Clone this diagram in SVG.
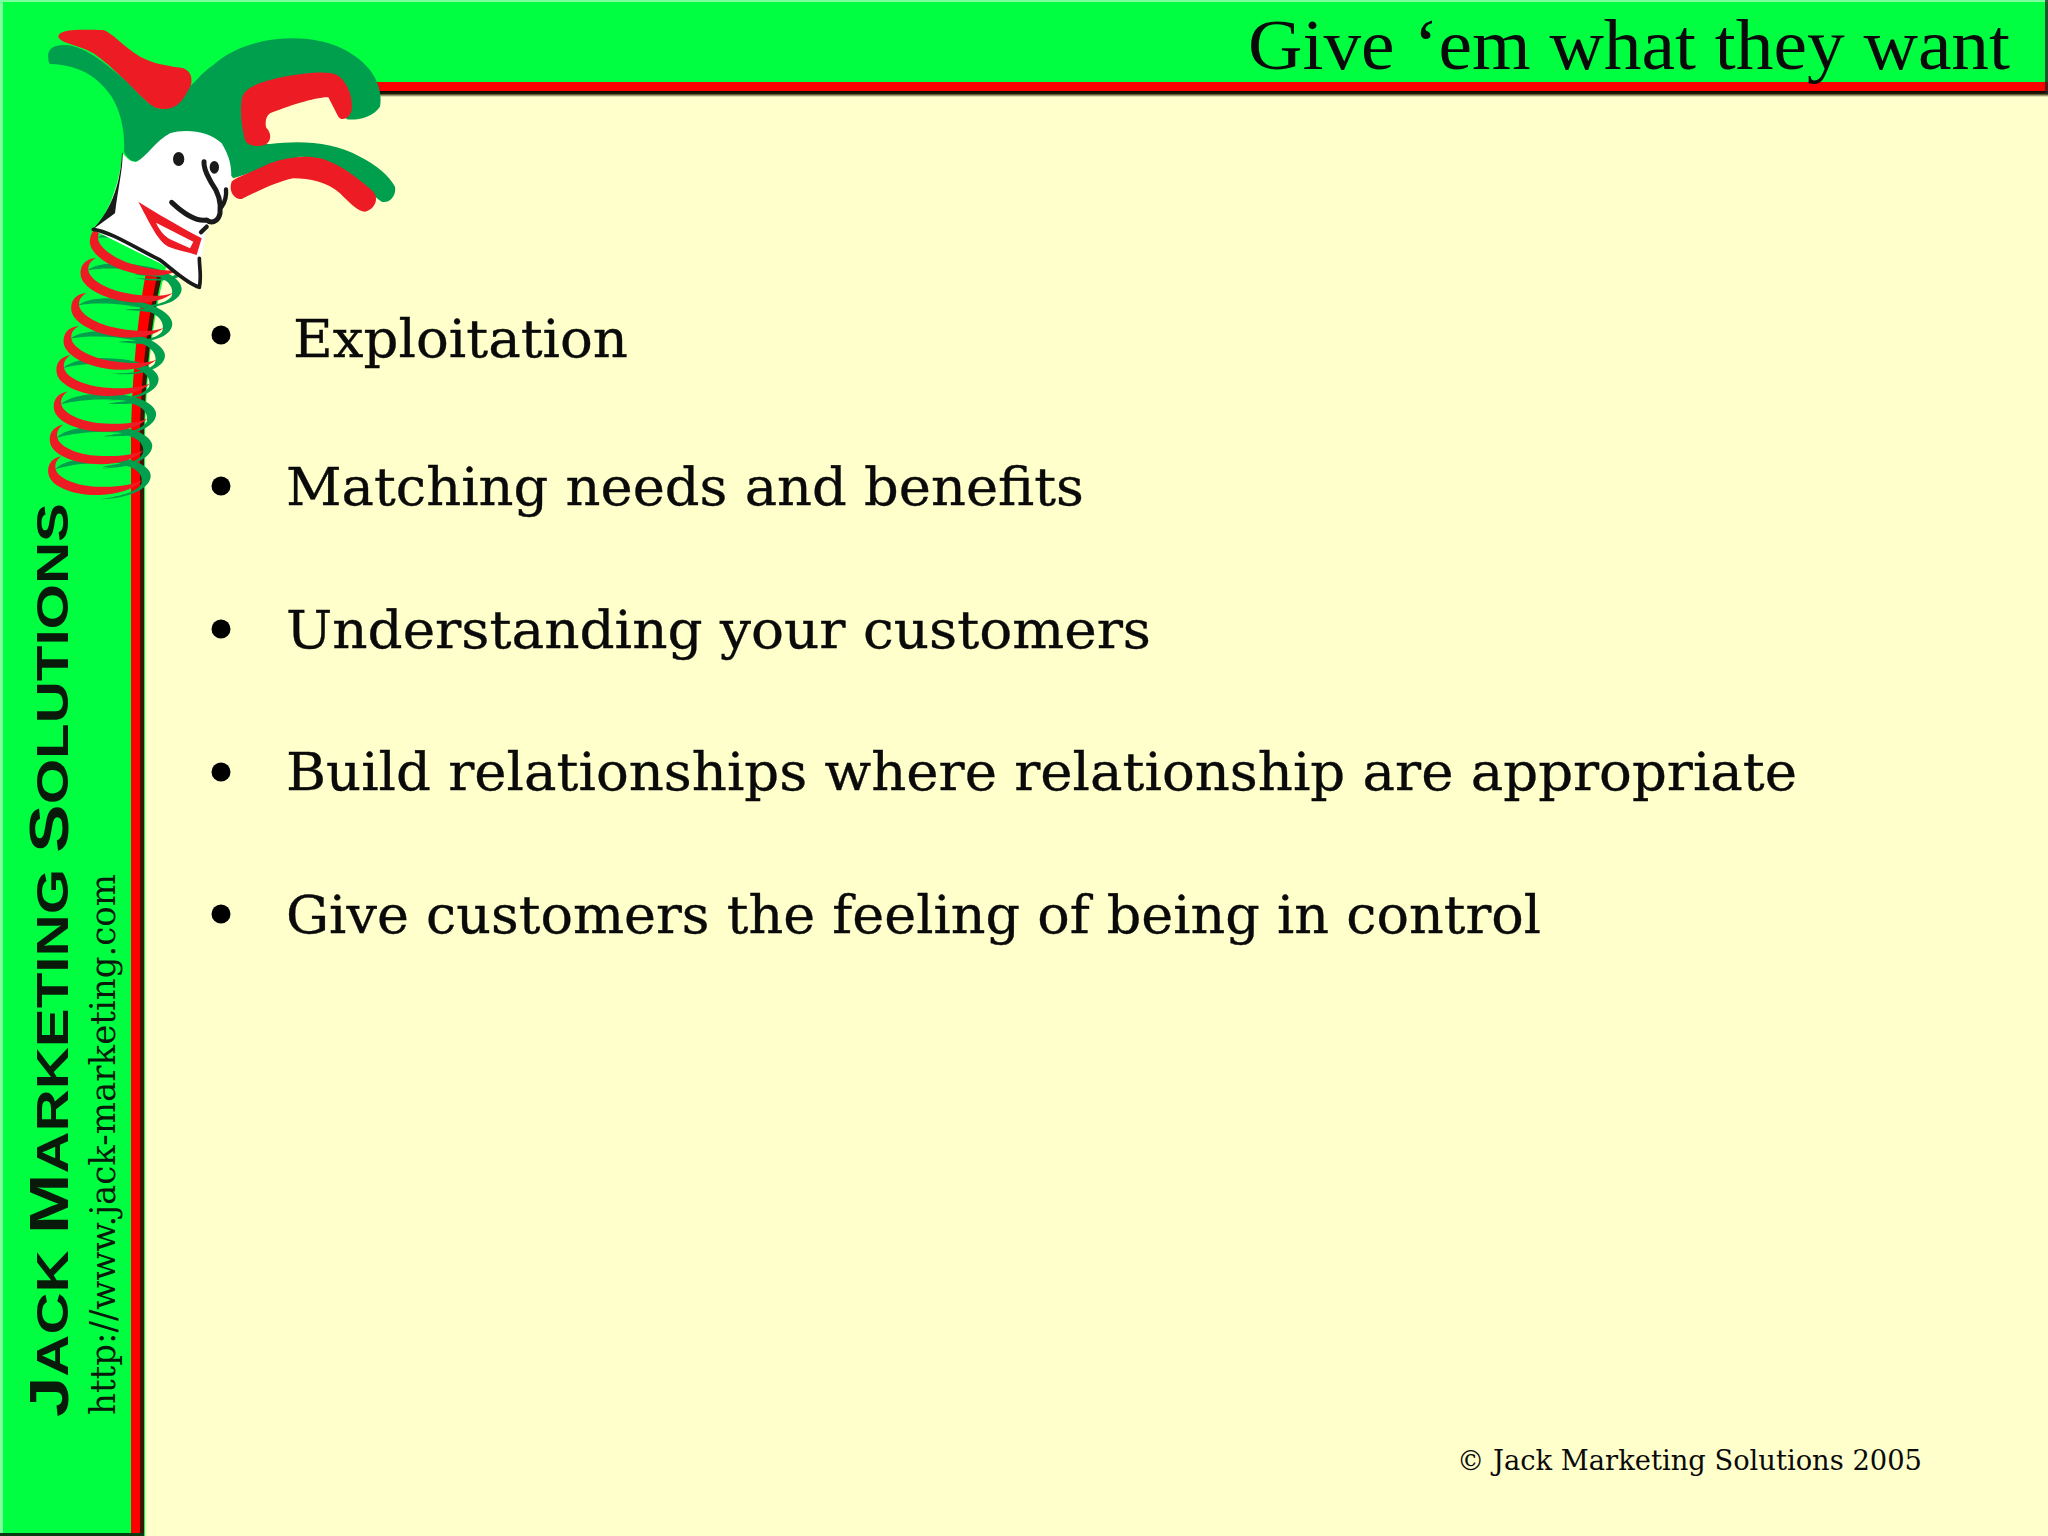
<svg xmlns="http://www.w3.org/2000/svg" width="2048" height="1536" viewBox="0 0 2048 1536" xmlns:xlink="http://www.w3.org/1999/xlink">
<style>
.b{font-family:"DejaVu Serif","Liberation Serif",serif;font-size:52px;fill:#0a0a0a;stroke:#0a0a0a;stroke-width:.35}
.k{fill:#000}
.r{fill:#ED1C24}
.g{fill:#009F4D}
.s{fill:none;stroke:#1a1a1a;stroke-linecap:round;stroke-linejoin:round}
</style>
<defs>
<linearGradient id="sh" x1="0" y1="0" x2="0" y2="1"><stop offset="0" stop-color="#000"/><stop offset=".5" stop-color="#221a00"/><stop offset="1" stop-color="#FFFFCC"/></linearGradient>
<g id="coil">
<path class="g" d="M165,1408C185,1385 250,1368 320,1372C400,1370 450,1400 452,1425C455,1460 400,1495 300,1498C350,1490 410,1480 425,1450C430,1425 410,1405 380,1398C350,1400 330,1400 305,1402C330,1394 350,1394 362,1390C300,1385 220,1390 165,1408Z"/>
<path class="r" d="M185,1368C150,1375 140,1400 146,1425C155,1460 220,1487 300,1485C350,1483 400,1470 428,1440C400,1455 350,1462 300,1460C240,1460 185,1440 170,1415C160,1395 170,1378 185,1368Z"/>
</g>
</defs>
<rect id="frame" width="2048" height="1536" fill="#00FF40"/>
<rect x="0" y="0" width="2048" height="2" fill="#7DFFA0"/>
<rect x="0" y="0" width="3" height="1536" fill="#7DFFA0"/>
<path id="page" d="M200,96H2048V1536H145V440C146,380 152,320 165,272Z" fill="#FFFFCC"/>
<path d="M139,1536V440C140,380 146,320 157,272H163C151,320 145,380 144,440V1536Z" fill="#3a1500"/>
<path d="M131,1536V433C132,380 137,320 146,272H158C147,320 141,380 140,433V1536Z" fill="#FF0000"/>
<rect x="0" y="1533" width="144" height="3" fill="#0a3a10"/>
<rect x="370" y="90" width="1678" height="7" fill="url(#sh)"/>
<rect x="370" y="82" width="1678" height="9" fill="#FF0000"/>
<rect x="2045" y="0" width="3" height="94" fill="#222" opacity=".75"/>

<g id="jester" transform="scale(.33333)">
<g id="spring">
<use xlink:href="#coil" href="#coil"/>
<use xlink:href="#coil" href="#coil" transform="translate(5,-95) rotate(1,145,1410)"/>
<use xlink:href="#coil" href="#coil" transform="translate(17,-195) rotate(2,145,1410)"/>
<use xlink:href="#coil" href="#coil" transform="translate(25,-305) rotate(3,145,1410)"/>
<use xlink:href="#coil" href="#coil" transform="translate(47,-395) rotate(7,145,1410)"/>
<use xlink:href="#coil" href="#coil" transform="translate(70,-495) rotate(8,145,1410)"/>
<use xlink:href="#coil" href="#coil" transform="translate(98,-600) rotate(8,145,1410)"/>
<use xlink:href="#coil" href="#coil" transform="translate(127,-700) rotate(14,145,1410)"/>
</g>
<path class="r" d="M175,110C175,90 220,87 310,90C340,100 380,150 430,175C470,195 520,200 550,205C575,215 580,240 570,265C555,300 545,320 520,325C490,330 465,330 445,310C400,270 340,200 280,160C240,135 180,130 175,110Z"/>
<path class="g" d="M145,175C140,145 165,130 215,137C270,150 330,200 380,245C420,285 450,322 480,327C530,328 545,310 570,260C590,240 610,215 640,195C700,140 790,115 880,115C980,115 1060,150 1110,210C1140,250 1145,290 1140,320C1120,350 1075,362 1040,358L1000,260L780,300L760,432L810,432C900,420 1000,425 1080,470C1130,495 1170,530 1185,560C1190,590 1165,612 1145,605C1120,590 1080,540 1030,510C980,480 940,470 900,470L700,535L600,420L420,480C400,490 385,480 372,455C375,400 365,340 335,290C300,240 250,195 150,192C146,190 145,182 145,175Z"/>
<path class="r" d="M725,300C730,265 770,250 830,235C900,220 980,210 1010,225C1040,240 1060,290 1055,330C1050,355 1025,365 1015,350L985,292C950,290 860,320 810,340C795,350 795,375 800,385C815,400 815,425 795,435C770,440 745,440 735,420C725,380 720,340 725,300Z"/>
<path class="r" d="M695,545C710,530 760,515 810,490C860,470 920,465 960,475C1020,490 1080,540 1120,575C1140,600 1120,630 1095,635C1075,635 1050,610 1020,580C980,545 930,535 880,535C830,545 770,575 725,597C700,600 685,570 695,545Z"/>
<path d="M368,460C375,470 395,490 410,485C440,470 470,420 510,400C560,385 630,395 665,430C690,470 700,510 690,560C680,610 650,650 620,680L605,770L600,860L575,850L480,790L280,690C330,640 360,540 368,460Z" fill="#fff"/>
<path d="M366,458C362,540 340,625 276,690L345,640C355,560 368,510 368,460Z" fill="#1a1a1a"/>
<path class="s" stroke-width="11" d="M280,688C330,695 400,740 480,780C520,810 560,850 598,862C605,830 598,800 598,775"/>
<ellipse cx="536" cy="477" rx="17" ry="21" fill="#1a1a1a"/>
<ellipse cx="643" cy="502" rx="14" ry="19" fill="#1a1a1a"/>
<path class="s" stroke-width="15" d="M612,485C610,510 625,530 635,550C650,570 665,600 660,640C655,665 635,672 620,660C590,665 550,640 515,607"/>
<path class="s" stroke-width="13" d="M678,568C680,590 672,610 665,620M620,680L603,697"/>
<path class="r" d="M415,605C470,640 540,680 605,715L590,765C560,755 530,750 505,740C470,720 445,660 415,605ZM468,668C478,690 490,705 510,718L570,745L580,725Z" fill-rule="evenodd"/>
</g>

<g id="title"><text x="1248" y="69" font-family="'Liberation Serif',serif" font-size="72" textLength="762" lengthAdjust="spacingAndGlyphs" fill="#0a0a0a">Give ‘em what they want</text></g>

<g id="brand">
<text transform="translate(68,1417) rotate(-90)" font-family="'Liberation Sans',Arial,sans-serif" font-weight="700" font-size="45" textLength="914" lengthAdjust="spacingAndGlyphs" fill="#0a1a0a"><tspan font-size="56">J</tspan>ACK <tspan font-size="56">M</tspan>ARKETING <tspan font-size="56">S</tspan>OLUTIONS</text>
<text transform="translate(115,1415) rotate(-90)" font-family="'DejaVu Serif',serif" font-size="36" textLength="541" lengthAdjust="spacingAndGlyphs" fill="#0a1a0a">http://www.jack-marketing.com</text>
</g>

<g id="bullets">
<circle class="k" cx="221" cy="335" r="9.5"/>
<circle class="k" cx="221" cy="486" r="9.5"/>
<circle class="k" cx="221" cy="629" r="9.5"/>
<circle class="k" cx="221" cy="772" r="9.5"/>
<circle class="k" cx="221" cy="914" r="9.5"/>
<text class="b" x="293" y="357" textLength="335" lengthAdjust="spacingAndGlyphs">Exploitation</text>
<text class="b" x="286" y="505" textLength="798" lengthAdjust="spacingAndGlyphs">Matching needs and benefits</text>
<text class="b" x="286" y="648" textLength="865" lengthAdjust="spacingAndGlyphs">Understanding your customers</text>
<text class="b" x="286" y="790" textLength="1511" lengthAdjust="spacingAndGlyphs">Build relationships where relationship are appropriate</text>
<text class="b" x="286" y="933" textLength="1255" lengthAdjust="spacingAndGlyphs">Give customers the feeling of being in control</text>
</g>
<g id="footer"><text x="1457" y="1470" font-family="'DejaVu Serif',serif" font-size="27" textLength="465" lengthAdjust="spacingAndGlyphs" fill="#0a0a0a">© Jack Marketing Solutions 2005</text></g>
</svg>
